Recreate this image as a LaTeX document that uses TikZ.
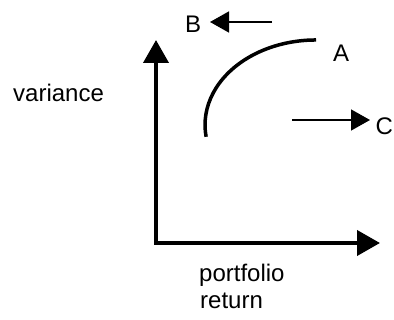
\documentclass[tikz,border=0pt]{standalone}
\usepackage{fontspec}
\setmainfont{Liberation Sans}
\usetikzlibrary{arrows.meta}
\begin{document}
\begin{tikzpicture}[x=1pt,y=1pt,
  axis/.style={line width=4pt,-{Triangle[length=23pt,width=25pt]}},
  thinarrow/.style={line width=1.5pt,-{Triangle[length=19pt,width=21pt]}},
  curve/.style={line width=3.5pt},
  lbl/.style={anchor=base west,inner sep=0pt,font=\fontsize{24}{29}\selectfont}]
\useasboundingbox (0,0) rectangle (394,-320);
% axes
\coordinate (origin) at (156,-243);
\coordinate (ytip) at (156,-40);
\coordinate (xtip) at (380,-243);
\draw[axis] (origin) -- (ytip);
\draw[axis] ([xshift=-2pt]origin) -- (xtip);
% curve
\coordinate (cstartpt) at (206.1,-136.8);
\draw[curve] (cstartpt) arc[start angle=188,end angle=90,x radius=111,y radius=85];
% arrows
\coordinate (bstart) at (272,-22);
\coordinate (btip) at (210,-22);
\draw[thinarrow] (bstart) -- (btip);
\coordinate (cstart) at (292,-120);
\coordinate (ctip) at (370,-120);
\draw[thinarrow] (cstart) -- (ctip);
% labels
\node[lbl] (B) at (185,-33) {B};
\node[lbl] (A) at (333,-62) {A};
\node[lbl] (C) at (375.5,-135) {C};
\node[lbl] (var) at (13,-101.5) {variance};
\node[lbl] (pf) at (199,-282) {portfolio};
\node[lbl] (ret) at (200,-309) {return};
\end{tikzpicture}
\end{document}
